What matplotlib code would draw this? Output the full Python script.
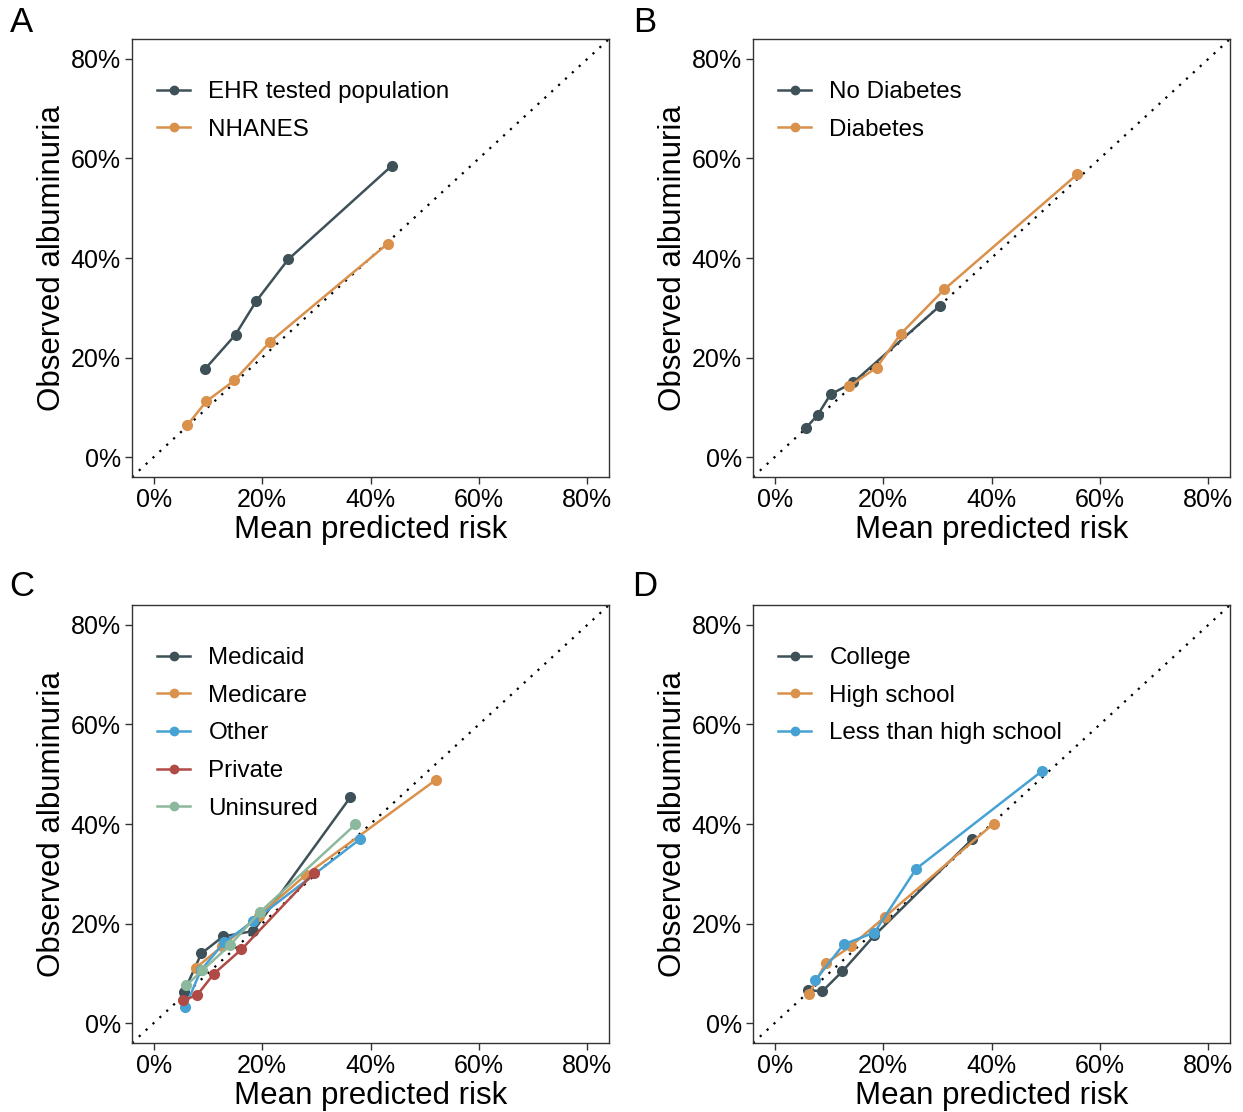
import numpy as np
import matplotlib
matplotlib.use('Agg')
import matplotlib.pyplot as plt
from matplotlib.ticker import PercentFormatter
from matplotlib.lines import Line2D

plt.rcParams['font.family'] = ['Liberation Sans', 'DejaVu Sans']

# Colours (ggplot-ish palette from the figure)
c_dark = '#3e5158'
c_orange = '#d9914c'
c_blue = '#47a2d3'
c_red = '#b04a45'
c_green = '#8cb99d'

# Panel A: EHR vs NHANES (values in %)
a_ehr_x = [9.4, 15.1, 18.9, 24.8, 43.9]
a_ehr_y = [17.6, 24.6, 31.3, 39.7, 58.5]
a_nh_x = [6.2, 9.7, 14.9, 21.5, 43.2]
a_nh_y = [6.4, 11.2, 15.4, 23.2, 42.9]

# Panel B: diabetes status
b_nod_x = [5.7, 7.9, 10.3, 14.5, 30.5]
b_nod_y = [5.8, 8.4, 12.6, 15.0, 30.4]
b_dia_x = [13.8, 18.8, 23.3, 31.3, 55.8]
b_dia_y = [14.2, 18.0, 24.8, 33.7, 56.8]

# Panel C: insurance
c_medicaid_x = [5.6, 8.8, 12.8, 18.4, 36.3]
c_medicaid_y = [6.3, 14.0, 17.4, 18.5, 45.4]
c_medicare_x = [7.8, 12.6, 19.4, 28.1, 52.1]
c_medicare_y = [11.1, 15.4, 21.6, 29.8, 48.9]
c_other_x = [5.8, 8.7, 13.0, 18.4, 38.0]
c_other_y = [3.2, 10.6, 16.2, 20.5, 36.9]
c_private_x = [5.5, 8.0, 11.1, 16.2, 29.6]
c_private_y = [4.6, 5.6, 9.9, 14.8, 30.2]
c_unins_x = [6.0, 9.0, 14.1, 19.7, 37.2]
c_unins_y = [7.6, 10.6, 15.7, 22.4, 39.9]

# Panel D: education
d_col_x = [6.1, 8.8, 12.5, 18.4, 36.4]
d_col_y = [6.6, 6.4, 10.4, 17.6, 36.9]
d_hs_x = [6.3, 9.4, 14.0, 20.4, 40.4]
d_hs_y = [5.8, 12.0, 15.4, 21.4, 40.1]
d_lhs_x = [7.5, 12.7, 18.4, 26.1, 49.4]
d_lhs_y = [8.6, 15.8, 18.2, 31.0, 50.7]

panels = [
    ('A', [(a_ehr_x, a_ehr_y, c_dark, 'EHR tested population'),
           (a_nh_x, a_nh_y, c_orange, 'NHANES')]),
    ('B', [(b_nod_x, b_nod_y, c_dark, 'No Diabetes'),
           (b_dia_x, b_dia_y, c_orange, 'Diabetes')]),
    ('C', [(c_medicaid_x, c_medicaid_y, c_dark, 'Medicaid'),
           (c_medicare_x, c_medicare_y, c_orange, 'Medicare'),
           (c_other_x, c_other_y, c_blue, 'Other'),
           (c_private_x, c_private_y, c_red, 'Private'),
           (c_unins_x, c_unins_y, c_green, 'Uninsured')]),
    ('D', [(d_col_x, d_col_y, c_dark, 'College'),
           (d_hs_x, d_hs_y, c_orange, 'High school'),
           (d_lhs_x, d_lhs_y, c_blue, 'Less than high school')]),
]

W, H = 1243, 1112
fig = plt.figure(figsize=(W / 100, H / 100), dpi=100)

# axes boxes in pixels: left, top; shared width/height
boxes = [(132, 39), (753, 39), (132, 605), (753, 605)]
aw, ah = 477, 438
label_pos = [(22, 22), (645, 22), (22, 587), (645, 587)]

for (letter, series), (l, t), (lx, ly) in zip(panels, boxes, label_pos):
    ax = fig.add_axes([l / W, 1 - (t + ah) / H, aw / W, ah / H])
    ax.plot([-4, 84], [-4, 84], linestyle=(0, (1, 3.2)), color='black',
            linewidth=1.6, zorder=1)
    handles = []
    for xs, ys, col, name in series:
        ax.plot(xs, ys, '-o', color=col, linewidth=1.8, markersize=7, zorder=3)
        handles.append(Line2D([], [], color=col, marker='o', linewidth=1.8,
                              markersize=6, label=name))
    ax.set_xlim(-4, 84)
    ax.set_ylim(-4, 84)
    ticks = [0, 20, 40, 60, 80]
    ax.set_xticks(ticks)
    ax.set_yticks(ticks)
    ax.xaxis.set_major_formatter(PercentFormatter(decimals=0))
    ax.yaxis.set_major_formatter(PercentFormatter(decimals=0))
    ax.tick_params(labelsize=18, length=5, width=1, color='#333333',
                   labelcolor='black', pad=3)
    for sp in ax.spines.values():
        sp.set_color('#333333')
        sp.set_linewidth(1)
    ax.set_xlabel('Mean predicted risk', fontsize=22.5, labelpad=2)
    ax.set_ylabel('Observed albuminuria', fontsize=22.5, labelpad=3)
    ax.legend(handles=handles, loc='upper left', frameon=False,
              fontsize=17.4, handlelength=1.36, handletextpad=0.75,
              labelspacing=0.65, borderaxespad=0,
              bbox_to_anchor=(0.033, 0.926))
    fig.text(lx / W, 1 - ly / H, letter, fontsize=25, ha='center', va='center')

fig.savefig('out.png', dpi=100)
